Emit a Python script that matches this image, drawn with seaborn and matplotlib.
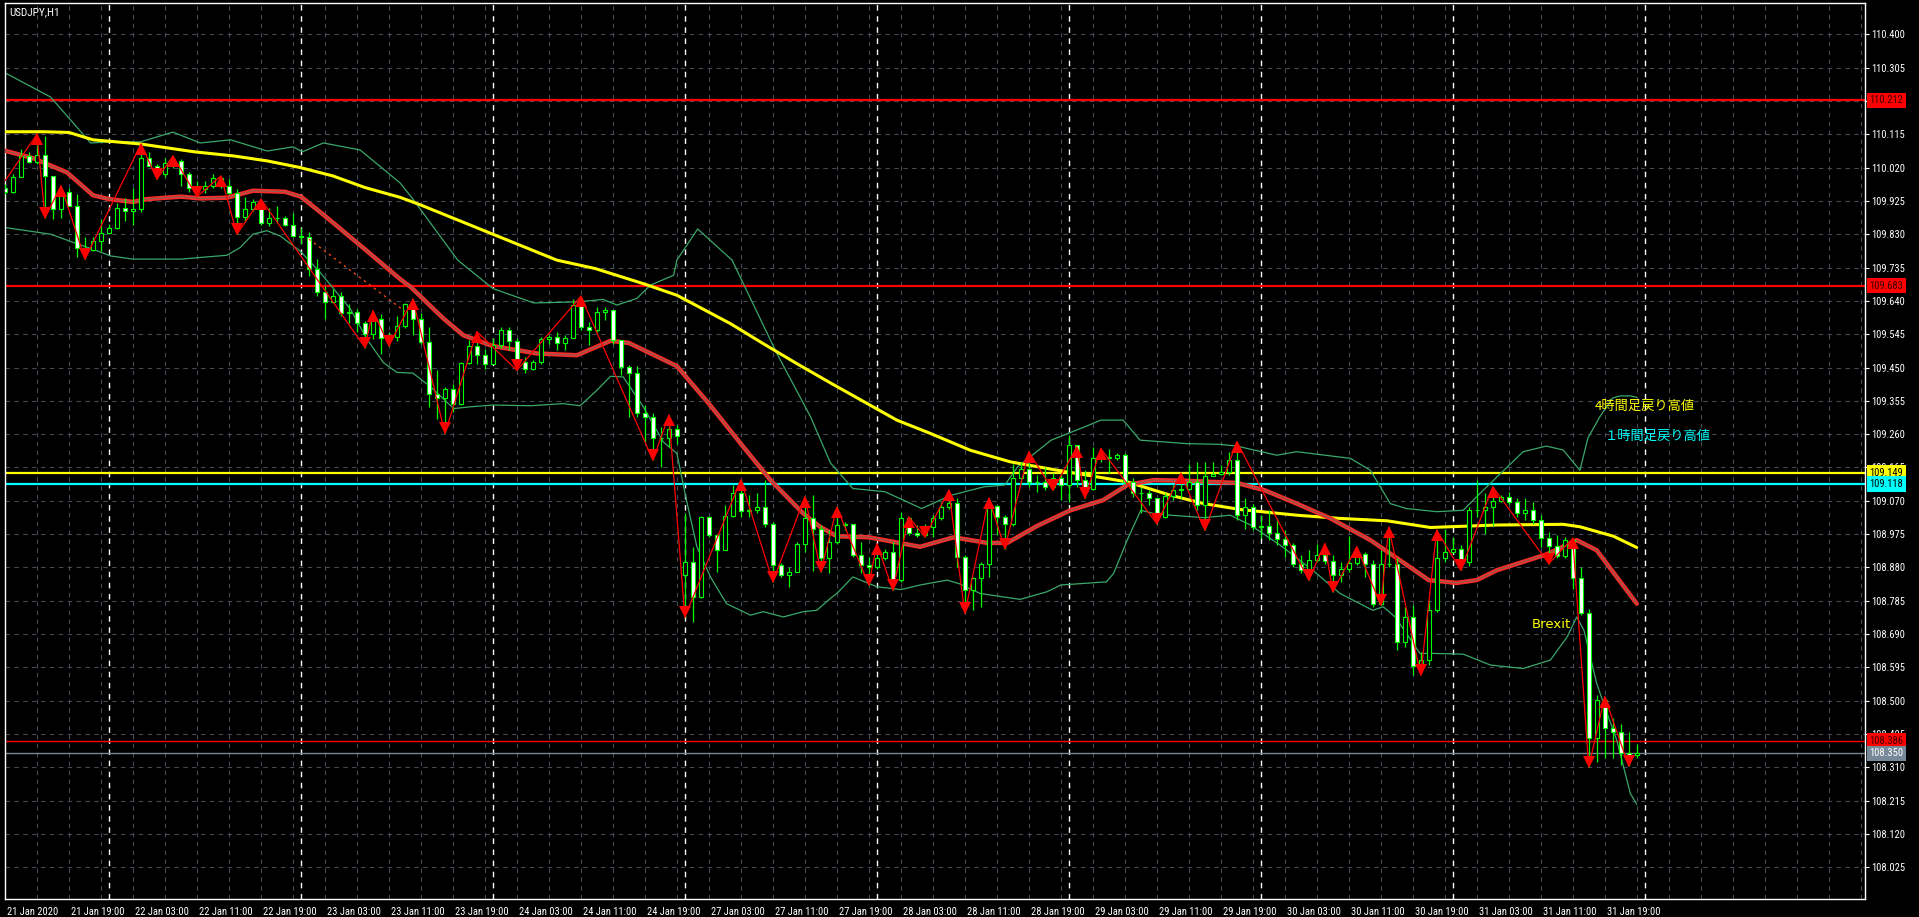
import matplotlib
matplotlib.use("Agg")
import matplotlib.pyplot as plt
import matplotlib.transforms as mtransforms
from matplotlib import font_manager
import seaborn as sns
import pandas as pd
import numpy as np

# ---- candles (USDJPY H1, 21 Jan 11:00 .. 31 Jan 23:00), open = previous close except listed
first_open = 109.963
gap_opens = {85: 108.858}

closes = [109.949, 109.994, 110.053, 110.036, 110.055, 109.996, 109.901, 109.951, 109.911, 109.792,
          109.785, 109.811, 109.833, 109.849, 109.906, 109.895, 109.901, 110.046, 110.025, 110.001,
          110.032, 110.039, 110.001, 109.963, 109.958, 109.968, 109.989, 109.968, 109.947, 109.878,
          109.903, 109.922, 109.863, 109.877, 109.875, 109.856, 109.825, 109.823, 109.732, 109.666,
          109.637, 109.654, 109.604, 109.609, 109.576, 109.545, 109.588, 109.533, 109.536, 109.569,
          109.630, 109.587, 109.523, 109.374, 109.364, 109.390, 109.347, 109.463, 109.511, 109.485,
          109.459, 109.514, 109.556, 109.525, 109.466, 109.447, 109.466, 109.530, 109.537, 109.520,
          109.535, 109.628, 109.566, 109.556, 109.609, 109.613, 109.528, 109.452, 109.433, 109.319,
          109.309, 109.250, 109.248, 109.276, 109.254, 108.896, 108.796, 109.023, 108.972, 108.929,
          109.026, 109.093, 109.041, 109.043, 109.052, 109.005, 108.887, 108.858, 108.868, 108.948,
          109.020, 108.991, 108.906, 108.953, 109.001, 109.004, 108.915, 108.887, 108.882, 108.908,
          108.925, 108.844, 109.020, 108.977, 108.972, 108.996, 109.020, 109.053, 109.063, 108.910,
          108.817, 108.851, 108.889, 109.055, 109.024, 109.003, 109.134, 109.162, 109.124, 109.123,
          109.110, 109.134, 109.115, 109.229, 109.129, 109.105, 109.191, 109.196, 109.193, 109.200,
          109.124, 109.093, 109.091, 109.077, 109.024, 109.083, 109.100, 109.105, 109.124, 109.058,
          109.140, 109.146, 109.153, 109.186, 109.029, 109.051, 108.996, 108.998, 108.979, 108.960,
          108.944, 108.891, 108.872, 108.901, 108.915, 108.899, 108.858, 108.877, 108.893, 108.918,
          108.890, 108.777, 108.891, 108.889, 108.668, 108.739, 108.599, 108.616, 108.758, 108.906,
          108.925, 108.934, 108.896, 109.045, 109.043, 109.051, 109.070, 109.081, 109.067, 109.034,
          109.043, 109.015, 108.963, 108.941, 108.913, 108.958, 108.849, 108.751, 108.393, 108.502,
          108.423, 108.412, 108.350, 108.345, 108.350]

highs = [109.972, 110.001, 110.072, 110.063, 110.115, 110.110, 109.996, 109.968, 109.963, 109.944,
         109.821, 109.821, 109.873, 109.858, 109.920, 109.934, 109.963, 110.087, 110.063, 110.030,
         110.046, 110.053, 110.044, 110.006, 109.982, 109.982, 110.001, 109.996, 109.987, 109.958,
         109.937, 109.930, 109.930, 109.906, 109.909, 109.882, 109.889, 109.849, 109.835, 109.758,
         109.683, 109.675, 109.666, 109.630, 109.616, 109.583, 109.612, 109.602, 109.550, 109.597,
         109.635, 109.645, 109.604, 109.566, 109.442, 109.395, 109.404, 109.466, 109.528, 109.552,
         109.504, 109.533, 109.566, 109.566, 109.533, 109.480, 109.471, 109.537, 109.542, 109.552,
         109.542, 109.644, 109.653, 109.580, 109.623, 109.623, 109.613, 109.528, 109.457, 109.454,
         109.343, 109.319, 109.281, 109.314, 109.286, 109.034, 108.939, 109.026, 109.026, 108.972,
         109.058, 109.115, 109.130, 109.086, 109.091, 109.129, 109.010, 108.892, 108.882, 108.953,
         109.081, 109.086, 109.000, 108.986, 109.051, 109.010, 108.994, 108.953, 108.910, 108.948,
         108.934, 108.953, 109.039, 109.024, 109.001, 109.005, 109.029, 109.067, 109.100, 109.077,
         108.915, 108.853, 108.896, 109.077, 109.058, 109.029, 109.176, 109.181, 109.210, 109.143,
         109.167, 109.148, 109.148, 109.257, 109.226, 109.157, 109.224, 109.219, 109.219, 109.205,
         109.205, 109.134, 109.110, 109.100, 109.077, 109.091, 109.115, 109.148, 109.176, 109.181,
         109.181, 109.181, 109.172, 109.210, 109.239, 109.077, 109.062, 109.029, 109.043, 109.020,
         108.986, 108.949, 108.915, 108.930, 108.948, 108.948, 108.915, 108.896, 108.969, 108.939,
         108.925, 108.901, 108.929, 108.994, 108.906, 108.768, 108.773, 108.640, 108.787, 108.986,
         108.991, 108.967, 108.944, 109.053, 109.129, 109.093, 109.110, 109.086, 109.096, 109.077,
         109.077, 109.067, 109.029, 108.982, 108.972, 108.967, 108.963, 108.880, 108.763, 108.516,
         108.511, 108.450, 108.435, 108.410, 108.378]

lows = [109.944, 109.947, 109.994, 110.034, 110.030, 109.877, 109.872, 109.875, 109.909, 109.764,
        109.759, 109.782, 109.782, 109.830, 109.844, 109.868, 109.856, 109.892, 110.023, 109.987,
        109.994, 110.020, 109.968, 109.951, 109.937, 109.947, 109.963, 109.963, 109.944, 109.830,
        109.865, 109.896, 109.856, 109.854, 109.863, 109.852, 109.821, 109.801, 109.711, 109.654,
        109.588, 109.633, 109.597, 109.576, 109.550, 109.507, 109.531, 109.488, 109.512, 109.526,
        109.564, 109.542, 109.518, 109.338, 109.302, 109.262, 109.324, 109.343, 109.461, 109.461,
        109.447, 109.459, 109.507, 109.499, 109.442, 109.433, 109.442, 109.459, 109.518, 109.499,
        109.499, 109.533, 109.556, 109.514, 109.552, 109.585, 109.518, 109.428, 109.309, 109.309,
        109.238, 109.186, 109.167, 109.224, 109.233, 108.739, 108.725, 108.792, 108.968, 108.868,
        108.929, 109.023, 109.025, 109.025, 109.034, 108.996, 108.839, 108.853, 108.825, 108.892,
        108.925, 108.870, 108.868, 108.863, 108.948, 108.986, 108.910, 108.863, 108.830, 108.877,
        108.901, 108.815, 108.839, 108.972, 108.967, 108.967, 108.967, 109.015, 109.048, 108.882,
        108.749, 108.758, 108.768, 108.853, 108.972, 108.934, 108.998, 109.119, 109.110, 109.096,
        109.100, 109.100, 109.072, 109.067, 109.110, 109.077, 109.100, 109.181, 109.150, 109.186,
        109.119, 109.082, 109.034, 109.058, 109.005, 109.020, 109.072, 109.077, 109.100, 109.044,
        108.986, 109.143, 109.143, 109.143, 109.015, 108.991, 108.986, 108.963, 108.958, 108.944,
        108.910, 108.882, 108.863, 108.844, 108.896, 108.891, 108.811, 108.839, 108.868, 108.887,
        108.853, 108.768, 108.773, 108.882, 108.644, 108.654, 108.573, 108.583, 108.602, 108.754,
        108.896, 108.920, 108.872, 108.884, 109.024, 108.975, 108.998, 109.067, 109.062, 109.024,
        109.015, 109.005, 108.939, 108.891, 108.906, 108.906, 108.820, 108.744, 108.312, 108.325,
        108.336, 108.336, 108.317, 108.314, 108.336]

# ---- indicators (bar number, price)
ma_slow_x = [0, 4.8, 8, 11, 17, 23.6, 28.6, 32.75, 36.9, 41, 45, 49.4, 52, 69, 73.8, 79.8, 84,
             90.7, 94.8, 99, 103.2, 111.5, 115.7, 120.7, 125.7, 131.1, 135.3, 140.3, 145.7, 149.9,
             154.5, 161.5, 166.8, 172.8, 178.2, 186.5, 194.8, 196.9, 201.1, 204]
ma_slow_y = [110.122, 110.122, 110.120, 110.099, 110.087, 110.065, 110.053, 110.039, 110.020,
             109.996, 109.963, 109.935, 109.913, 109.756, 109.732, 109.689, 109.656, 109.575,
             109.518, 109.461, 109.406, 109.300, 109.262, 109.214, 109.181, 109.159, 109.143,
             109.124, 109.086, 109.062, 109.045, 109.029, 109.020, 109.013, 108.994, 109.001,
             109.003, 108.996, 108.969, 108.937]

ma_fast_x = [0, 3.6, 7.75, 11, 13, 16, 17.75, 22, 24.4, 27.75, 31, 35, 37, 40, 45, 49.4, 50.7,
             54.8, 57.3, 61, 66.5, 71.5, 75.7, 78, 84, 88, 92.3, 95.7, 99.8, 101.9, 104, 108,
             112.3, 114.4, 118.6, 122.8, 125.3, 129, 133.2, 137.3, 140.3, 143.6, 147.8, 154,
             157.5, 161.5, 165.7, 170.7, 174.7, 178, 181.5, 184, 186.5, 189.8, 192.8, 196.5,
             199, 201.5, 204]
ma_fast_y = [110.068, 110.046, 110.006, 109.941, 109.930, 109.922, 109.930, 109.937, 109.932,
             109.934, 109.954, 109.951, 109.937, 109.882, 109.787, 109.702, 109.680, 109.590,
             109.542, 109.511, 109.490, 109.485, 109.526, 109.520, 109.454, 109.347, 109.224,
             109.129, 109.034, 108.996, 108.969, 108.966, 108.948, 108.939, 108.966, 108.950,
             108.950, 108.998, 109.043, 109.072, 109.115, 109.129, 109.127, 109.121, 109.100,
             109.062, 109.020, 108.958, 108.896, 108.844, 108.836, 108.844, 108.872, 108.896,
             108.918, 108.958, 108.929, 108.853, 108.777]

bb_up_x = [0, 5.7, 10.7, 13.2, 16.9, 21, 24.4, 28.2, 32.8, 36, 37.2, 39.8, 44.4, 49.4, 51, 56.6,
           61, 66.1, 71.5, 74.8, 76.5, 79, 80.7, 83.6, 84, 86.6, 90.9, 96.5, 100.7, 103.2, 106,
           110, 114.6, 118.3, 122.4, 125, 126.6, 130.8, 135, 137, 139.8, 141.9, 147.7, 151.9,
           154, 159, 161.5, 168.2, 170.7, 173.2, 175.2, 179, 182.3, 184.8, 189.8, 192.7, 194.8,
           196.9, 197.9, 199.4, 201, 201.9, 203.2, 204]
bb_up_y = [110.290, 110.221, 110.090, 110.093, 110.093, 110.121, 110.090, 110.099, 110.067,
           110.079, 110.065, 110.090, 110.070, 109.976, 109.930, 109.756, 109.675, 109.634,
           109.637, 109.644, 109.628, 109.647, 109.685, 109.713, 109.756, 109.845, 109.756,
           109.490, 109.310, 109.178, 109.105, 109.096, 109.048, 109.086, 109.110, 109.115,
           109.167, 109.243, 109.281, 109.300, 109.300, 109.243, 109.233, 109.231, 109.226,
           109.200, 109.210, 109.191, 109.157, 109.062, 109.048, 109.039, 109.043, 109.100,
           109.210, 109.226, 109.215, 109.157, 109.249, 109.310, 109.363, 109.369, 109.369,
           109.365]

bb_lo_x = [0, 5.7, 8.6, 11, 13.2, 16, 22, 27.75, 29.4, 31, 32.75, 34.4, 36.9, 39.4, 43.2, 45.25,
           47.3, 49, 51, 53.2, 56.1, 58.2, 61, 65.7, 69.8, 71.9, 74, 75.7, 77.3, 79.8, 82.3, 84,
           85.2, 86.5, 88.2, 90.2, 93.2, 94.8, 97.3, 99.8, 101.5, 103.2, 104, 106, 109, 112,
           114.4, 117.8, 119.4, 121.9, 126.9, 130.3, 132, 137.7, 138.6, 140.3, 142, 143.6,
           145.7, 149.9, 153.2, 155.7, 159.4, 163.5, 166.9, 171, 172.3, 173.8, 176.9, 178.6,
           182.3, 185.7, 189.8, 193.2, 195.3, 196.5, 197.4, 199, 200.3, 201.5, 203.2, 204]
bb_lo_y = [109.849, 109.830, 109.806, 109.787, 109.768, 109.759, 109.759, 109.770, 109.792,
           109.830, 109.840, 109.825, 109.782, 109.721, 109.616, 109.531, 109.464, 109.436,
           109.434, 109.395, 109.333, 109.338, 109.343, 109.341, 109.347, 109.341, 109.385,
           109.425, 109.423, 109.338, 109.238, 109.205, 109.072, 108.939, 108.853, 108.777,
           108.744, 108.754, 108.739, 108.754, 108.758, 108.792, 108.806, 108.853, 108.825,
           108.817, 108.830, 108.844, 108.833, 108.806, 108.789, 108.811, 108.830, 108.839,
           108.863, 108.958, 109.043, 109.034, 109.029, 109.022, 109.029, 109.001, 108.944,
           108.872, 108.806, 108.758, 108.768, 108.739, 108.635, 108.635, 108.633, 108.602,
           108.592, 108.616, 108.682, 108.739, 108.701, 108.549, 108.464, 108.388, 108.236,
           108.205]

zz_x = [0, 4, 5, 7, 10, 17, 19, 21, 24, 27, 29, 32, 45, 46, 48, 51, 55, 59, 64, 72, 81, 83, 85,
        92, 96, 100, 102, 104, 108, 109, 111, 113, 115, 118, 120, 123, 125, 128, 131, 134, 135,
        137, 144, 147, 150, 154, 163, 165, 166, 169, 172, 173, 177, 179, 182, 186, 193, 196,
        198, 200, 203]
zz_y = [109.982, 110.115, 109.877, 109.968, 109.759, 110.087, 109.987, 110.053, 109.937, 109.996,
        109.830, 109.930, 109.507, 109.612, 109.512, 109.645, 109.262, 109.552, 109.442, 109.653,
        109.186, 109.314, 108.739, 109.130, 108.839, 109.081, 108.868, 109.051, 108.830, 108.948,
        108.815, 109.024, 108.967, 109.100, 108.749, 109.077, 108.934, 109.210, 109.100, 109.224,
        109.077, 109.219, 109.005, 109.148, 108.986, 109.239, 108.844, 108.948, 108.811, 108.939,
        108.773, 108.994, 108.573, 108.986, 108.872, 109.110, 108.891, 108.963, 108.312, 108.511,
        108.314]

trend_x = [38, 50]
trend_y = [109.816, 109.610]

# horizontal levels: price, line colour, label box colour, label text colour
levels = [(110.212, "#ff0000", "#ff0000", "#3a0000"),
          (109.683, "#ff0000", "#ff0000", "#3a0000"),
          (109.149, "#ffff00", "#ffff00", "#000000"),
          (109.118, "#00ffff", "#00ffff", "#000000"),
          (108.386, "#ff0000", "#ff0000", "#3a0000"),
          (108.350, "#778899", "#778899", "#ffffff")]

price_ticks = [round(108.025 + 0.095 * k, 3) for k in range(26)]

bar_times = list(pd.date_range("2020-01-21 11:00", "2020-01-24 23:00", freq="h")) + \
    list(pd.date_range("2020-01-27 00:00", "2020-01-31 23:00", freq="h"))


def fit_size(fig, family, sample, target_px, base=8.0):
    # shrink the font until the sample string is about as wide as in the reference
    r = fig.canvas.get_renderer()
    probe = fig.text(0, 0, sample, fontsize=base, family=family)
    w = probe.get_window_extent(r).width
    probe.remove()
    return min(base, base * target_px / w)


def draw_figure():
    sns.set_style("dark", {"axes.facecolor": "black", "figure.facecolor": "black"})
    avail = {f.name for f in font_manager.fontManager.ttflist}
    ui_font = "DejaVu Sans"
    for cand in ["Liberation Sans Narrow", "Roboto Condensed", "Open Sans Condensed",
                 "Liberation Sans"]:
        if cand in avail:
            ui_font = cand
            break
    plt.rcParams["font.family"] = [ui_font, "DejaVu Sans"]

    fig = plt.figure(figsize=(19.19, 9.17), dpi=100, facecolor="black")
    ax = fig.add_axes([5 / 1919, 18 / 917, 1860 / 1919, 896 / 917])
    ax.set_facecolor("black")
    ax.set_xlim(0.04, 232.54)
    ax.set_ylim(107.935, 110.489)

    xfs = fit_size(fig, ui_font, "21 Jan 19:00", 54)
    yfs = fit_size(fig, ui_font, "110.400", 34)

    n = len(closes)
    xs = np.arange(n)
    opens = [first_open] + closes[:-1]
    for k, v in gap_opens.items():
        opens[k] = v

    # grid
    ax.hlines(price_ticks, 0.04, 232.54, colors="#434a55", linewidth=0.8,
              linestyles=(0, (4, 4)), zorder=0)
    ax.vlines(np.arange(0, 233, 4), 107.935, 110.489, colors="#434a55", linewidth=0.8,
              linestyles=(0, (4, 4)), zorder=0)
    seps = [i for i, t in enumerate(bar_times) if t.hour == 0] + [n]
    ax.vlines(seps, 107.935, 110.489, colors="white", linewidth=1.0,
              linestyles=(0, (4, 4)), zorder=0.5)

    # horizontal levels
    for p, lc, bg, fg in levels:
        lw = 1.0 if p < 108.5 else 1.6
        ax.axhline(p, color=lc, linewidth=lw, zorder=1)

    # bollinger bands and moving averages
    sns.lineplot(x=bb_up_x, y=bb_up_y, ax=ax, color="#3aa86a", linewidth=0.9, zorder=2)
    sns.lineplot(x=bb_lo_x, y=bb_lo_y, ax=ax, color="#3aa86a", linewidth=0.9, zorder=2)
    sns.lineplot(x=ma_slow_x, y=ma_slow_y, ax=ax, color="#ffff00", linewidth=2.2, zorder=3)
    sns.lineplot(x=ma_fast_x, y=ma_fast_y, ax=ax, color="#ff2a2a", linewidth=3.2, zorder=3)
    sns.lineplot(x=ma_fast_x, y=ma_fast_y, ax=ax, color="#8a5a4a", linewidth=0.9, zorder=3.1)

    # candles
    o = np.array(opens)
    c = np.array(closes)
    h = np.maximum(np.array(highs), np.maximum(o, c))
    l = np.minimum(np.array(lows), np.minimum(o, c))
    ax.vlines(xs, l, h, colors="#00ff00", linewidth=0.9, zorder=4)
    body_low = np.minimum(o, c)
    body_h = np.maximum(np.abs(c - o), 0.0015)
    fill = ["white" if cc < oo else "black" for oo, cc in zip(o, c)]
    ax.bar(xs, body_h, bottom=body_low, width=0.5, color=fill, edgecolor="#00ff00",
           linewidth=0.8, zorder=5)

    # zigzag
    ax.plot(zz_x, zz_y, color="#ff0000", linewidth=0.9, zorder=6)
    ax.plot(trend_x, trend_y, color="#ff4a1a", linewidth=0.9, linestyle=(0, (2, 3)), zorder=6)
    off = 5 / 350.8
    for k in range(1, len(zz_x)):
        if zz_y[k] > zz_y[k - 1]:
            ax.plot(zz_x[k], zz_y[k] - off, marker="^", markersize=8, color="#ff0000",
                    markeredgewidth=0, zorder=7)
        else:
            ax.plot(zz_x[k], zz_y[k] + off, marker="v", markersize=8, color="#ff0000",
                    markeredgewidth=0, zorder=7)

    # texts
    cjk = ["Noto Sans CJK JP", "DejaVu Sans"]
    ax.text(198.8, 109.340, "4時間足戻り高値", color="#ffff00", fontsize=9.5, family=cjk,
            va="center", ha="left", zorder=8)
    ax.text(200.0, 109.255, "１時間足戻り高値", color="#00ffff", fontsize=9.5, family=cjk,
            va="center", ha="left", zorder=8)
    ax.text(190.9, 108.717, "Brexit", color="#ffff00", fontsize=9.5, family=["DejaVu Sans"],
            va="center", ha="left", zorder=8)
    ax.text(0.0025, 0.995, "USDJPY,H1", transform=ax.transAxes, color="white",
            fontsize=yfs + 0.5, va="top", ha="left", zorder=8)

    # axes: right price scale, bottom time scale
    ax.yaxis.tick_right()
    ax.set_yticks(price_ticks)
    ax.set_yticklabels([f"{p:.3f}" for p in price_ticks])
    ax.tick_params(axis="y", which="major", direction="out", length=3, width=0.8,
                   colors="white", labelsize=yfs, pad=1.5, left=False, right=True,
                   labelleft=False, labelright=True)
    tick_idx = list(range(0, n, 8))
    tick_lab = []
    for i in tick_idx:
        t = bar_times[i]
        tick_lab.append(t.strftime("%-d %b %Y") if i == 0 else t.strftime("%-d %b %H:%M"))
    ax.set_xticks(tick_idx)
    ax.set_xticklabels(tick_lab)
    ax.tick_params(axis="x", which="major", direction="out", length=4, width=0.8,
                   colors="white", labelsize=xfs, pad=1.5)
    shift = mtransforms.ScaledTranslation(2 / 100, 0, fig.dpi_scale_trans)
    for lab in ax.get_xticklabels():
        lab.set_horizontalalignment("left")
        lab.set_transform(lab.get_transform() + shift)
    ax.set_xlabel("")
    ax.set_ylabel("")
    for s in ax.spines.values():
        s.set_color("white")
        s.set_linewidth(1.0)
        s.set_visible(True)
    ax.grid(False)

    # price boxes on the scale
    trans = mtransforms.blended_transform_factory(ax.transAxes, ax.transData)
    for p, lc, bg, fg in levels:
        ax.text(1.0024, p, f"{p:.3f}", transform=trans, ha="left", va="center", color=fg,
                fontsize=yfs, clip_on=False, zorder=10,
                bbox=dict(boxstyle="square,pad=0.25", fc=bg, ec="none"))
    return fig


fig = draw_figure()
fig.savefig("out.png", dpi=100, facecolor="black")
plt.close(fig)
